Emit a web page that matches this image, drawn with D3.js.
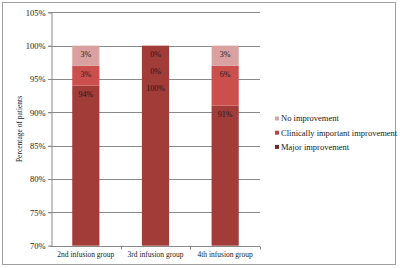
<!DOCTYPE html>
<html>
<head>
<meta charset="utf-8">
<script src="https://cdn.jsdelivr.net/npm/d3@7"></script>
<style>
  body { margin: 0; background: #fff; }
  text { font-family: "Liberation Serif", "Times New Roman", serif; fill: #1a1a1a; }
</style>
</head>
<body>
<div id="plot"></div>
<script>
// data
var groups   = ["2nd infusion group", "3rd infusion group", "4th infusion group"];
var series   = ["Major improvement", "Clinically important improvement", "No improvement"];
var major    = [94, 100, 91];
var clinical = [3, 0, 6];
var none     = [3, 0, 3];
var yTicks   = [70, 75, 80, 85, 90, 95, 100, 105];
var colors   = ["#a23c39", "#cb504d", "#d9a2a1"];
var legendColors = ["#d4a7a7", "#b8434f", "#6b2b2b"];

var W = 400, H = 268;
var plot = {left: 51, right: 260, top: 12.3, bottom: 245.7};

var svg = d3.select("#plot").append("svg")
    .attr("width", W)
    .attr("height", H);

// outer frame
svg.append("rect")
    .attr("x", 2.5).attr("y", 2.5)
    .attr("width", 393).attr("height", 262)
    .attr("fill", "#fff")
    .attr("stroke", "#a0a0a0")
    .attr("stroke-width", 1);

var x = d3.scaleBand()
    .domain(groups)
    .range([plot.left, plot.right])
    .paddingInner(0.61)
    .paddingOuter(0.305);

var xb = d3.scaleBand().domain(groups).range([plot.left, plot.right]);

var y = d3.scaleLinear()
    .domain([70, 105])
    .range([plot.bottom, plot.top]);

// gridlines
svg.append("g")
    .selectAll("line")
    .data(yTicks.slice(1))
    .enter().append("line")
    .attr("x1", plot.left - 3)
    .attr("x2", plot.right)
    .attr("y1", function(d) { return Math.round(y(d)) + 0.5; })
    .attr("y2", function(d) { return Math.round(y(d)) + 0.5; })
    .attr("stroke", "#8a8a8a")
    .attr("stroke-width", 1);

// stacked bars
var stackData = groups.map(function(g, i) {
    return {group: g, "Major improvement": major[i], "Clinically important improvement": clinical[i], "No improvement": none[i]};
});
var stacked = d3.stack().keys(series)(stackData);

svg.append("g")
    .selectAll("g")
    .data(stacked)
    .enter().append("g")
    .attr("fill", function(d, i) { return colors[i]; })
    .selectAll("rect")
    .data(function(d) { return d; })
    .enter().append("rect")
    .attr("x", function(d) { return x(d.data.group); })
    .attr("width", x.bandwidth())
    .attr("y", function(d) { return y(d[1]); })
    .attr("height", function(d) { return Math.max(0, y(Math.max(d[0], 70)) - y(d[1])); });

// data labels, placed near the top of each segment, pushed down to avoid overlap
groups.forEach(function(g, i) {
    var lastY = -Infinity;
    for (var s = stacked.length - 1; s >= 0; s--) {
        var seg = stacked[s][i];
        var ly = Math.max(y(seg[1]) + 9, lastY + 17);
        lastY = ly;
        svg.append("text")
            .attr("x", x(g) + x.bandwidth() / 2)
            .attr("y", ly)
            .attr("dy", "0.35em")
            .attr("text-anchor", "middle")
            .style("font-size", "8px")
            .text((seg[1] - seg[0]) + "%");
    }
});

// Y axis
var axisY = svg.append("g")
    .attr("transform", "translate(" + (plot.left + 0.5) + ",0)")
    .call(d3.axisLeft(y).tickValues(yTicks).tickSize(3).tickPadding(3).tickFormat(function(d) { return d + "%"; }));
axisY.select(".domain").attr("stroke", "#8a8a8a");
axisY.selectAll(".tick line").attr("stroke", "#8a8a8a");
axisY.selectAll("text")
    .style("font-family", "Liberation Serif, serif")
    .style("font-size", "8.5px")
    .attr("fill", "#1a1a1a");

// X axis
var axisX = svg.append("g")
    .attr("transform", "translate(0," + (Math.round(plot.bottom) + 0.5) + ")");
axisX.append("line")
    .attr("x1", plot.left).attr("x2", plot.right)
    .attr("stroke", "#8a8a8a");
axisX.selectAll(".tk")
    .data(groups)
    .enter().append("line")
    .attr("class", "tk")
    .attr("x1", function(d) { return Math.round(xb(d) + xb.bandwidth()) + 0.5; })
    .attr("x2", function(d) { return Math.round(xb(d) + xb.bandwidth()) + 0.5; })
    .attr("y1", 0).attr("y2", 3)
    .attr("stroke", "#8a8a8a");
axisX.selectAll("text")
    .data(groups)
    .enter().append("text")
    .attr("x", function(d) { return xb(d) + xb.bandwidth() / 2; })
    .attr("y", 10)
    .attr("text-anchor", "middle")
    .style("font-size", "7.5px")
    .text(function(d) { return d; });

// Y axis title
svg.append("text")
    .attr("transform", "translate(19," + ((plot.top + plot.bottom) / 2) + ") rotate(-90)")
    .attr("text-anchor", "middle")
    .attr("dy", "0.35em")
    .style("font-size", "7.5px")
    .text("Percentage of patients");

// legend
var legendItems = series.slice().reverse();
legendItems.forEach(function(name, i) {
    var ly = 118.5 + i * 14.2;
    svg.append("rect")
        .attr("x", 275).attr("y", ly - 2)
        .attr("width", 4).attr("height", 4)
        .attr("fill", legendColors[i]);
    svg.append("text")
        .attr("x", 281)
        .attr("y", ly)
        .attr("dy", "0.35em")
        .style("font-size", "8.5px")
        .text(name);
});
</script>
</body>
</html>
